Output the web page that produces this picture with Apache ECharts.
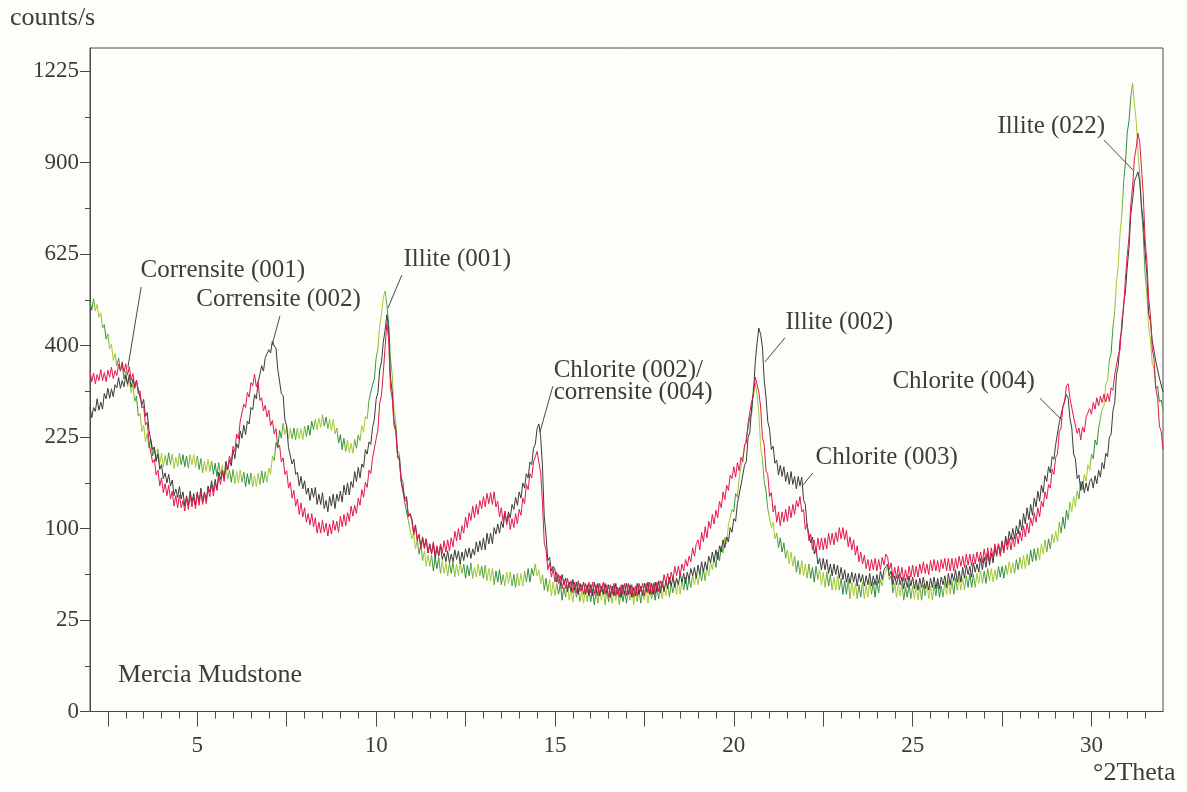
<!DOCTYPE html>
<html>
<head>
<meta charset="utf-8">
<title>Mercia Mudstone – XRD</title>
<script src="https://cdn.jsdelivr.net/npm/echarts@6/dist/echarts.min.js"></script>
<style>
  html, body { margin: 0; padding: 0; background: #fdfdf9; }
  #chart { width: 1187px; height: 792px; }
</style>
</head>
<body>
<div id="chart"></div>
<script>
// Diffractogram sampling: 2θ from 2° to 32° in 0.05° steps (20 samples per row = 1°)
const thetaStart = 2;
const thetaStep = 0.05;

// Intensities in counts/s
const traceBlack = [
  276, 258, 276, 269, 292, 271, 286, 273, 302, 292, 312, 293, 311, 296, 319, 313, 333, 312, 327, 315,
  338, 320, 339, 314, 330, 312, 328, 309, 311, 280, 291, 260, 267, 236, 237, 205, 209, 188, 198, 175,
  182, 162, 170, 156, 168, 152, 160, 139, 148, 137, 151, 135, 144, 126, 139, 127, 145, 131, 142, 127,
  144, 131, 149, 131, 144, 133, 152, 144, 159, 145, 161, 147, 171, 161, 174, 162, 187, 175, 189, 180,
  204, 191, 214, 207, 235, 223, 245, 229, 252, 247, 276, 272, 300, 292, 323, 324, 357, 346, 374, 372,
  391, 384, 410, 399, 394, 350, 347, 302, 298, 254, 243, 208, 205, 183, 190, 168, 171, 152, 165, 148,
  159, 141, 149, 133, 149, 137, 150, 128, 141, 128, 143, 123, 133, 119, 138, 126, 141, 123, 141, 132,
  145, 131, 153, 140, 156, 140, 158, 150, 172, 158, 178, 163, 183, 178, 205, 198, 217, 213, 241, 255,
  291, 304, 349, 365, 407, 434, 470, 438, 334, 305, 253, 239, 197, 191, 159, 160, 135, 138, 114, 117,
  111, 96, 104, 89, 93, 81, 91, 81, 89, 75, 84, 74, 84, 70, 80, 72, 82, 69, 75, 67,
  77, 66, 74, 67, 78, 69, 77, 65, 76, 68, 79, 71, 80, 70, 79, 73, 86, 76, 87, 78,
  90, 78, 95, 84, 95, 84, 101, 94, 105, 95, 108, 101, 118, 108, 119, 112, 128, 122, 137, 127,
  144, 136, 156, 149, 169, 163, 186, 182, 207, 213, 239, 247, 226, 180, 114, 93, 68, 71, 59, 63,
  60, 50, 56, 48, 56, 48, 53, 43, 50, 43, 52, 44, 50, 41, 49, 44, 50, 41, 48, 40,
  48, 40, 50, 42, 49, 40, 47, 41, 49, 42, 48, 39, 47, 40, 49, 41, 46, 39, 48, 41,
  49, 41, 48, 39, 46, 40, 49, 41, 47, 40, 49, 43, 50, 41, 49, 41, 50, 43, 51, 42,
  51, 43, 51, 45, 54, 47, 54, 46, 53, 48, 57, 50, 57, 49, 58, 52, 61, 55, 62, 53,
  64, 56, 67, 58, 67, 60, 72, 66, 76, 67, 78, 69, 82, 76, 88, 80, 91, 86, 101, 96,
  111, 108, 129, 127, 153, 153, 181, 187, 224, 233, 278, 304, 365, 406, 439, 425, 397, 329, 295, 251,
  238, 205, 210, 184, 189, 167, 181, 165, 179, 158, 171, 154, 172, 154, 165, 148, 165, 152, 164, 134,
  128, 103, 105, 85, 91, 74, 80, 65, 70, 60, 70, 60, 69, 57, 65, 55, 65, 56, 64, 53,
  62, 52, 60, 50, 57, 49, 58, 50, 57, 47, 57, 50, 56, 47, 55, 48, 57, 47, 55, 48,
  56, 49, 59, 52, 60, 61, 65, 55, 59, 48, 55, 48, 56, 48, 54, 45, 53, 46, 55, 47,
  54, 45, 52, 44, 53, 46, 54, 45, 51, 44, 53, 46, 54, 45, 53, 45, 54, 48, 55, 46,
  57, 48, 57, 51, 60, 50, 59, 50, 62, 53, 64, 56, 63, 54, 66, 58, 65, 58, 70, 60,
  71, 62, 75, 64, 75, 66, 80, 72, 84, 74, 87, 77, 92, 83, 97, 88, 100, 89, 103, 94,
  110, 98, 117, 105, 124, 110, 128, 115, 136, 125, 145, 132, 153, 143, 166, 158, 179, 170, 194, 190,
  213, 215, 249, 249, 277, 280, 300, 293, 256, 240, 198, 191, 162, 167, 146, 158, 143, 156, 145, 158,
  162, 149, 166, 155, 174, 164, 185, 176, 199, 194, 225, 229, 270, 285, 339, 358, 413, 436, 498, 525,
  590, 643, 739, 782, 840, 854, 870, 838, 760, 717, 631, 570, 472, 454, 410, 406, 366, 368, 332, 333,
  305
];

const traceRed = [
  347, 325, 342, 321, 339, 327, 349, 327, 343, 325, 348, 334, 354, 331, 347, 337, 360, 346, 365, 344,
  361, 338, 355, 328, 341, 315, 327, 301, 307, 275, 279, 245, 250, 217, 217, 185, 190, 167, 174, 152,
  163, 143, 155, 139, 153, 135, 145, 126, 139, 124, 140, 124, 133, 120, 137, 122, 140, 125, 137, 123,
  142, 127, 145, 128, 142, 129, 148, 138, 154, 139, 156, 146, 166, 154, 172, 158, 179, 174, 195, 185,
  210, 202, 230, 222, 252, 250, 282, 276, 304, 295, 323, 317, 340, 315, 325, 289, 294, 270, 280, 259,
  271, 244, 253, 230, 239, 208, 212, 186, 192, 168, 173, 149, 157, 136, 146, 126, 135, 116, 130, 113,
  124, 107, 117, 104, 117, 102, 112, 95, 107, 95, 109, 96, 106, 92, 105, 94, 109, 98, 108, 96,
  114, 102, 116, 103, 118, 108, 126, 114, 127, 117, 136, 127, 147, 137, 157, 150, 174, 169, 192, 192,
  222, 237, 284, 299, 343, 395, 450, 416, 313, 293, 244, 234, 193, 188, 157, 157, 132, 135, 113, 116,
  108, 93, 102, 87, 94, 79, 89, 79, 89, 75, 83, 75, 86, 73, 82, 73, 84, 75, 87, 76,
  88, 77, 90, 81, 97, 87, 100, 88, 103, 95, 113, 101, 118, 109, 126, 112, 128, 116, 133, 123,
  138, 125, 142, 129, 143, 128, 144, 125, 132, 113, 124, 108, 120, 104, 115, 99, 111, 101, 117, 105,
  122, 115, 136, 129, 154, 147, 169, 163, 186, 184, 202, 203, 170, 131, 85, 78, 60, 66, 54, 61,
  50, 58, 49, 55, 45, 52, 45, 53, 46, 51, 42, 50, 42, 51, 43, 48, 41, 49, 42, 50,
  42, 50, 41, 48, 40, 49, 43, 50, 41, 48, 39, 48, 41, 49, 40, 46, 39, 48, 41, 49,
  40, 49, 41, 48, 39, 47, 40, 49, 43, 49, 40, 49, 42, 50, 41, 49, 41, 50, 43, 51,
  46, 56, 49, 57, 49, 58, 52, 63, 55, 63, 55, 65, 59, 69, 63, 72, 67, 80, 72, 84,
  88, 78, 96, 86, 102, 90, 108, 100, 116, 105, 121, 112, 132, 124, 144, 134, 153, 146, 167, 162,
  179, 164, 185, 173, 193, 186, 212, 216, 249, 252, 287, 299, 334, 337, 305, 277, 224, 213, 173, 168,
  138, 143, 119, 127, 107, 119, 103, 119, 107, 122, 108, 126, 112, 128, 116, 133, 125, 138, 119, 122,
  99, 105, 87, 94, 78, 88, 75, 90, 78, 90, 78, 90, 79, 95, 83, 95, 83, 96, 86, 101,
  89, 101, 88, 98, 81, 91, 78, 88, 73, 82, 67, 76, 65, 73, 61, 69, 59, 69, 60, 70,
  59, 69, 60, 71, 64, 74, 71, 60, 66, 53, 62, 53, 63, 53, 62, 51, 60, 52, 63, 54,
  64, 54, 63, 54, 65, 57, 67, 57, 65, 56, 68, 59, 69, 59, 68, 58, 69, 61, 70, 59,
  70, 59, 70, 59, 70, 61, 72, 63, 72, 62, 74, 64, 74, 63, 74, 65, 76, 67, 76, 66,
  79, 68, 80, 67, 80, 70, 84, 74, 84, 72, 85, 75, 89, 78, 90, 78, 91, 81, 95, 84,
  97, 87, 103, 91, 106, 95, 112, 103, 118, 107, 124, 113, 132, 125, 144, 135, 154, 149, 175, 168,
  193, 198, 234, 240, 277, 286, 317, 321, 293, 291, 259, 259, 231, 240, 220, 242, 233, 259, 256, 274,
  264, 285, 273, 294, 279, 297, 285, 301, 286, 302, 287, 313, 308, 339, 337, 379, 391, 457, 487, 561,
  620, 673, 769, 822, 913, 949, 999, 967, 880, 792, 663, 605, 509, 469, 392, 370, 311, 293, 243, 234,
  205
];

const traceGreen = [
  502, 481, 509, 479, 495, 464, 475, 439, 447, 414, 426, 393, 403, 368, 383, 357, 373, 347, 360, 330,
  346, 315, 331, 303, 319, 287, 297, 261, 265, 234, 245, 217, 231, 207, 221, 195, 208, 186, 206, 184,
  199, 179, 196, 181, 200, 182, 198, 176, 193, 179, 199, 182, 197, 179, 195, 177, 197, 182, 197, 178,
  195, 175, 191, 170, 187, 172, 190, 172, 187, 168, 184, 165, 185, 168, 181, 163, 183, 161, 174, 157,
  175, 155, 172, 156, 174, 157, 171, 151, 169, 154, 170, 151, 166, 151, 170, 154, 173, 156, 172, 157,
  177, 168, 195, 188, 216, 207, 236, 223, 248, 229, 243, 222, 239, 222, 240, 221, 240, 222, 239, 221,
  243, 226, 245, 228, 252, 237, 255, 237, 257, 241, 263, 243, 259, 239, 255, 235, 255, 230, 240, 215,
  229, 205, 223, 202, 220, 200, 215, 199, 221, 207, 228, 219, 244, 233, 260, 256, 290, 287, 319, 330,
  373, 393, 446, 471, 512, 528, 494, 448, 373, 339, 272, 252, 204, 198, 163, 158, 130, 132, 109, 110,
  89, 95, 79, 88, 74, 83, 68, 77, 63, 73, 63, 73, 59, 71, 61, 71, 57, 68, 57, 66,
  55, 66, 57, 67, 54, 65, 55, 66, 57, 65, 53, 64, 55, 66, 53, 62, 54, 65, 55, 63,
  53, 64, 51, 61, 51, 61, 48, 59, 50, 60, 48, 56, 47, 58, 49, 58, 47, 56, 46, 57,
  47, 57, 47, 59, 50, 61, 50, 61, 55, 65, 55, 60, 49, 56, 44, 53, 43, 52, 40, 50,
  40, 49, 41, 49, 37, 46, 39, 48, 37, 44, 36, 46, 39, 46, 36, 44, 35, 45, 36, 45,
  36, 45, 34, 43, 35, 44, 37, 45, 34, 44, 36, 43, 35, 45, 37, 44, 34, 45, 36, 43,
  35, 44, 37, 45, 34, 44, 36, 45, 35, 44, 37, 46, 35, 45, 38, 46, 37, 46, 38, 47,
  38, 47, 40, 49, 39, 49, 42, 51, 41, 51, 41, 52, 44, 54, 44, 53, 46, 56, 48, 56,
  48, 58, 51, 61, 51, 63, 55, 67, 60, 71, 62, 76, 68, 82, 75, 91, 84, 104, 102, 122,
  119, 142, 137, 163, 163, 193, 194, 224, 227, 258, 265, 314, 323, 300, 266, 208, 191, 157, 146, 123,
  123, 101, 107, 89, 95, 80, 90, 76, 85, 70, 78, 65, 76, 63, 72, 58, 68, 56, 68, 55,
  65, 53, 65, 53, 62, 50, 63, 52, 60, 48, 58, 46, 58, 47, 56, 44, 54, 44, 55, 44,
  53, 41, 51, 41, 52, 38, 50, 40, 49, 38, 48, 39, 50, 38, 48, 39, 51, 41, 50, 39,
  51, 42, 52, 47, 56, 58, 63, 52, 55, 42, 49, 39, 49, 40, 49, 37, 46, 39, 49, 38,
  47, 38, 48, 37, 47, 37, 48, 40, 49, 38, 47, 37, 48, 40, 50, 39, 47, 39, 50, 41,
  51, 41, 51, 41, 53, 44, 54, 44, 53, 44, 55, 46, 57, 46, 56, 46, 57, 49, 59, 49,
  59, 49, 61, 51, 61, 50, 60, 52, 63, 54, 63, 53, 64, 56, 67, 57, 66, 57, 69, 60,
  71, 61, 73, 61, 74, 64, 78, 67, 79, 68, 80, 69, 84, 74, 88, 76, 89, 79, 94, 85,
  97, 86, 107, 95, 113, 100, 121, 110, 131, 119, 138, 125, 145, 135, 158, 147, 168, 158, 182, 174,
  198, 191, 220, 212, 239, 238, 273, 279, 320, 327, 369, 384, 440, 476, 551, 596, 684, 739, 840, 898,
  1000, 1043, 1128, 1178, 1104, 1042, 937, 861, 750, 679, 569, 520, 441, 413, 360, 352, 312, 316, 286, 290,
  270
];

// Axis ticks (counts/s on a square-root scale, 2θ in degrees)
const yTickCounts = [0, 25, 100, 225, 400, 625, 900, 1225];
const xTickLabels = [5, 10, 15, 20, 25, 30];

// Peak annotations: text anchor (left-middle), leader line start and end, in [2θ, counts/s]
const peakNotes = [
  { text: 'Corrensite (001)', at: [3.40, 582], from: [3.43, 538], to: [3.06, 354] },
  { text: 'Corrensite (002)', at: [4.96, 506], from: [7.31, 467], to: [7.09, 401] },
  { text: 'Illite (001)', at: [10.75, 611], from: [10.72, 569], to: [10.33, 486] },
  { text: 'Chlorite (002)/\ncorrensite (004)', at: [14.95, 326], from: [14.94, 316], to: [14.58, 233] },
  { text: 'Illite (002)', at: [21.43, 453], from: [21.43, 417], to: [20.87, 365] },
  { text: 'Chlorite (003)', at: [22.27, 193], from: [22.21, 170], to: [21.93, 153] },
  { text: 'Chlorite (004)', at: [24.42, 326], from: [28.56, 293], to: [29.17, 254] },
  { text: 'Illite (022)', at: [27.36, 1024], from: [30.35, 975], to: [31.16, 876] }
];

const FONT = '"Liberation Serif", "Times New Roman", serif';
const INK = '#3c3c3c';
const AXIS = '#4a4a4a';

// Square-root intensity scale
const sq = c => Math.sqrt(c);
const toPoints = arr => arr.map((c, i) => [Math.round((thetaStart + i * thetaStep) * 100) / 100, sq(c)]);

const yMaxSqrt = 36.26;

// Minor tick positions
const xMajorTicks = [];
for (let v = 2.5; v <= 30.001; v += 2.5) xMajorTicks.push(v);
const xMinorTicks = [];
for (let v = 2.5; v <= 31.501; v += 0.5) xMinorTicks.push(v);
const yMinorTicks = [];
for (let v = 2.5; v < yMaxSqrt; v += 5) yMinorTicks.push(v);

// Speckled green ink
const greenStops = [];
for (let i = 0; i <= 240; i++) {
  greenStops.push({ offset: i / 240, color: (i * 37) % 7 < 3 ? '#2b8c3d' : '#a6cb33' });
}
const greenInk = { type: 'linear', x: 0, y: 0, x2: 1, y2: 0, colorStops: greenStops, global: false };

const chart = echarts.init(document.getElementById('chart'), null, { renderer: 'canvas' });

const option = {
  backgroundColor: '#fdfdf9',
  animation: false,
  grid: {
    left: 90, right: 24, top: 48, bottom: 80.5,
    show: true, borderColor: AXIS, borderWidth: 1, backgroundColor: 'transparent'
  },
  xAxis: [
    {
      type: 'value', min: 2, max: 32, position: 'bottom',
      axisLine: { show: true, onZero: false, lineStyle: { color: AXIS, width: 1 } },
      axisTick: { show: true, customValues: xMajorTicks, length: 15, inside: false, lineStyle: { color: AXIS } },
      axisLabel: { show: true, customValues: xTickLabels, fontFamily: FONT, fontSize: 23, color: INK, margin: 23 },
      splitLine: { show: false }
    },
    {
      type: 'value', min: 2, max: 32, position: 'bottom',
      axisLine: { show: false, onZero: false },
      axisTick: { show: true, customValues: xMinorTicks, length: 7, lineStyle: { color: AXIS } },
      axisLabel: { show: false },
      splitLine: { show: false }
    }
  ],
  yAxis: [
    {
      type: 'value', min: 0, max: yMaxSqrt, position: 'left',
      axisLine: { show: true, onZero: false, lineStyle: { color: AXIS, width: 1 } },
      axisTick: { show: true, customValues: yTickCounts.map(sq), length: 10, lineStyle: { color: AXIS } },
      axisLabel: {
        show: true, customValues: yTickCounts.map(sq),
        formatter: v => String(Math.round(v * v)),
        fontFamily: FONT, fontSize: 23, color: INK, margin: 11
      },
      splitLine: { show: false }
    },
    {
      type: 'value', min: 0, max: yMaxSqrt, position: 'left',
      axisLine: { show: false, onZero: false },
      axisTick: { show: true, customValues: yMinorTicks, length: 5, lineStyle: { color: AXIS } },
      axisLabel: { show: false },
      splitLine: { show: false }
    }
  ],
  series: [
    {
      name: 'green', type: 'line', xAxisIndex: 0, yAxisIndex: 0,
      data: toPoints(traceGreen), showSymbol: false, symbol: 'none',
      lineStyle: { width: 1, color: greenInk }, z: 2
    },
    {
      name: 'black', type: 'line', xAxisIndex: 0, yAxisIndex: 0,
      data: toPoints(traceBlack), showSymbol: false, symbol: 'none',
      lineStyle: { width: 1, color: '#3b3b3b' }, z: 3,
      markLine: {
        silent: true, symbol: ['none', 'none'], animation: false,
        label: { show: false },
        lineStyle: { type: 'solid', color: '#4a4a4a', width: 1 },
        emphasis: { disabled: true },
        data: peakNotes.map(p => [
          { coord: [p.from[0], sq(p.from[1])] },
          { coord: [p.to[0], sq(p.to[1])] }
        ])
      },
      markPoint: {
        silent: true, animation: false,
        symbol: 'rect', symbolSize: [1, 1],
        itemStyle: { color: 'rgba(0,0,0,0)' },
        label: {
          show: true, position: 'right', distance: 0,
          fontFamily: FONT, fontSize: 25, color: INK, lineHeight: 22
        },
        data: peakNotes.map(p => ({
          coord: [p.at[0], sq(p.at[1])],
          label: { formatter: p.text }
        }))
      }
    },
    {
      name: 'red', type: 'line', xAxisIndex: 0, yAxisIndex: 0,
      data: toPoints(traceRed), showSymbol: false, symbol: 'none',
      lineStyle: { width: 1, color: '#e3194d' }, z: 4
    }
  ],
  graphic: [
    { type: 'text', x: 10, y: 18, style: { text: 'counts/s', font: '26px ' + FONT, fill: INK, verticalAlign: 'middle', align: 'left' } },
    { type: 'text', x: 1093, y: 773, style: { text: '°2Theta', font: '26px ' + FONT, fill: INK, verticalAlign: 'middle', align: 'left' } },
    { type: 'text', x: 118, y: 675, style: { text: 'Mercia Mudstone', font: '26px ' + FONT, fill: INK, verticalAlign: 'middle', align: 'left' } }
  ]
};

chart.setOption(option);
</script>
</body>
</html>
